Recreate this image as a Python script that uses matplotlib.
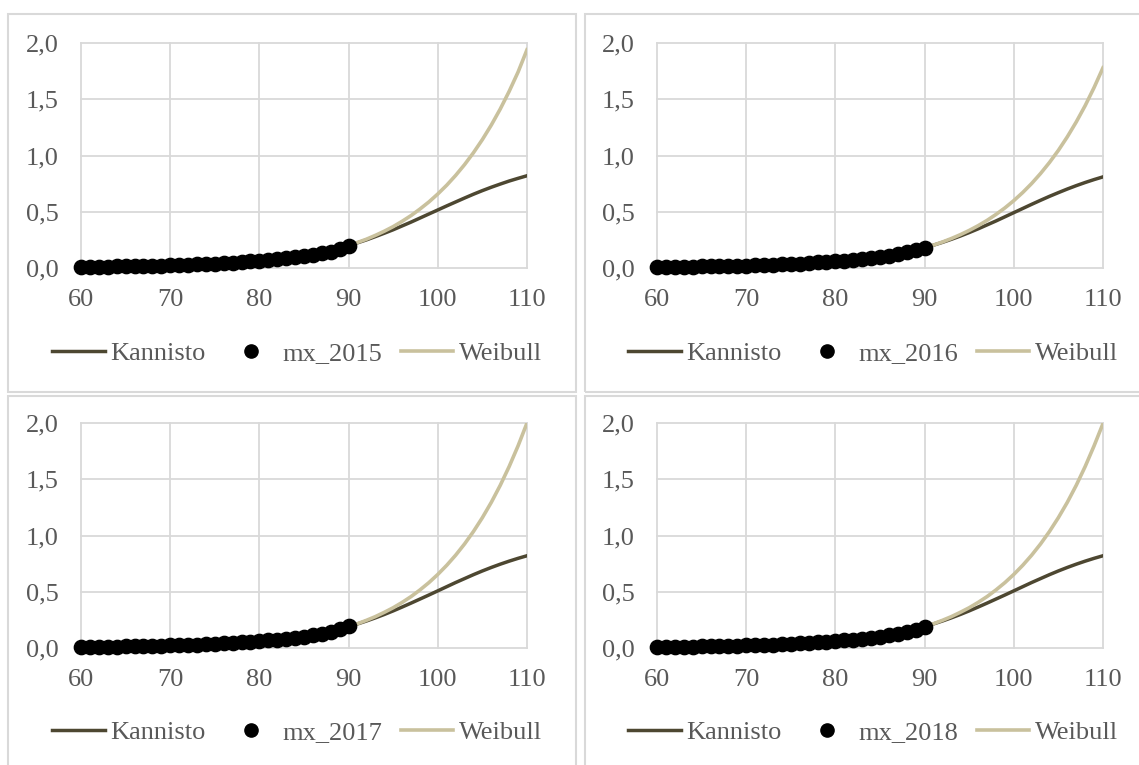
import matplotlib
matplotlib.use("Agg")
import matplotlib.pyplot as plt
from matplotlib.lines import Line2D
from matplotlib.patches import Rectangle
from matplotlib.ticker import FuncFormatter

# ages
ages_mx = list(range(60, 91))
ages_fit = list(range(90, 111))

# observed death rates, one list per year
mx_2015 = [0.010, 0.011, 0.012, 0.013, 0.014, 0.015, 0.017, 0.018, 0.020, 0.022,
           0.024, 0.026, 0.029, 0.032, 0.035, 0.039, 0.043, 0.048, 0.053, 0.058,
           0.064, 0.071, 0.078, 0.086, 0.095, 0.106, 0.118, 0.131, 0.146, 0.172, 0.200]
mx_2016 = [0.009, 0.010, 0.011, 0.012, 0.013, 0.014, 0.016, 0.017, 0.019, 0.020,
           0.022, 0.024, 0.027, 0.030, 0.033, 0.036, 0.040, 0.044, 0.049, 0.054,
           0.060, 0.066, 0.073, 0.080, 0.089, 0.099, 0.110, 0.122, 0.140, 0.160, 0.182]
mx_2017 = [0.010, 0.011, 0.011, 0.012, 0.013, 0.015, 0.016, 0.018, 0.019, 0.021,
           0.023, 0.025, 0.028, 0.031, 0.034, 0.037, 0.041, 0.046, 0.051, 0.056,
           0.062, 0.068, 0.075, 0.083, 0.092, 0.102, 0.114, 0.127, 0.143, 0.165, 0.192]
mx_2018 = [0.010, 0.010, 0.011, 0.012, 0.013, 0.014, 0.016, 0.017, 0.019, 0.021,
           0.023, 0.025, 0.027, 0.030, 0.033, 0.037, 0.041, 0.045, 0.050, 0.055,
           0.061, 0.067, 0.074, 0.082, 0.091, 0.101, 0.113, 0.126, 0.142, 0.164, 0.190]

# Kannisto fits, ages 90-110
kan_2015 = [0.200, 0.224, 0.250, 0.279, 0.309, 0.340, 0.374, 0.408, 0.444, 0.480, 0.516,
            0.552, 0.587, 0.622, 0.656, 0.688, 0.718, 0.746, 0.773, 0.797, 0.820]
kan_2016 = [0.180, 0.203, 0.228, 0.255, 0.284, 0.315, 0.348, 0.383, 0.418, 0.455, 0.492,
            0.529, 0.566, 0.602, 0.637, 0.670, 0.702, 0.732, 0.760, 0.786, 0.810]
kan_2017 = [0.190, 0.214, 0.240, 0.268, 0.298, 0.330, 0.364, 0.399, 0.435, 0.471, 0.508,
            0.545, 0.582, 0.617, 0.652, 0.685, 0.716, 0.745, 0.772, 0.797, 0.820]
kan_2018 = [0.190, 0.214, 0.240, 0.268, 0.298, 0.330, 0.364, 0.399, 0.435, 0.471, 0.508,
            0.545, 0.582, 0.617, 0.652, 0.685, 0.716, 0.745, 0.772, 0.797, 0.820]

# Weibull fits, ages 90-110
wei_2015 = [0.200, 0.227, 0.256, 0.290, 0.327, 0.368, 0.415, 0.466, 0.524, 0.587, 0.658,
            0.736, 0.823, 0.919, 1.025, 1.142, 1.271, 1.413, 1.570, 1.742, 1.940]
wei_2016 = [0.180, 0.204, 0.231, 0.262, 0.296, 0.334, 0.376, 0.423, 0.476, 0.534, 0.599,
            0.671, 0.751, 0.840, 0.938, 1.046, 1.166, 1.298, 1.443, 1.604, 1.780]
wei_2017 = [0.190, 0.216, 0.246, 0.279, 0.317, 0.358, 0.405, 0.457, 0.516, 0.581, 0.654,
            0.735, 0.825, 0.925, 1.036, 1.159, 1.295, 1.446, 1.613, 1.797, 2.000]
wei_2018 = [0.190, 0.216, 0.246, 0.279, 0.317, 0.358, 0.405, 0.457, 0.516, 0.581, 0.654,
            0.735, 0.825, 0.925, 1.036, 1.159, 1.295, 1.446, 1.613, 1.797, 1.995]

years = ["2015", "2016", "2017", "2018"]
mx_all = [mx_2015, mx_2016, mx_2017, mx_2018]
kan_all = [kan_2015, kan_2016, kan_2017, kan_2018]
wei_all = [wei_2015, wei_2016, wei_2017, wei_2018]

x_ticks = [60, 70, 80, 90, 100, 110]
y_ticks = [0.0, 0.5, 1.0, 1.5, 2.0]

KAN_COL = "#4d4731"
WEI_COL = "#c9c19d"
TXT_COL = "#595959"
GRID_COL = "#d9d9d9"

plt.rcParams['font.family'] = ['Liberation Serif', 'DejaVu Serif']

W, H = 1139, 765
fig = plt.figure(figsize=(W / 100, H / 100), dpi=100)

# panel frames in pixels: (left, top, right, bottom)
frames = [(8, 14, 576, 392), (585, 14, 1145, 392),
          (8, 396, 576, 770), (585, 396, 1145, 770)]
# plot areas in pixels: (left, top, right, bottom)
areas = [(81, 43, 527, 268), (657, 43, 1103, 268),
         (81, 423, 527, 648), (657, 423, 1103, 648)]
legend_y = [353, 353, 732, 732]

for fr in frames:
    l, t, r, b = fr
    fig.patches.append(Rectangle((l / W, 1 - b / H), (r - l) / W, (b - t) / H,
                                 transform=fig.transFigure, fill=False,
                                 edgecolor=GRID_COL, linewidth=1.5))

fmt = FuncFormatter(lambda v, p: f"{v:.1f}".replace(".", ","))

for i in range(4):
    l, t, r, b = areas[i]
    ax = fig.add_axes([l / W, 1 - b / H, (r - l) / W, (b - t) / H])
    ax.plot(ages_fit, kan_all[i], color=KAN_COL, lw=2.5, zorder=3)
    ax.plot(ages_fit, wei_all[i], color=WEI_COL, lw=2.6, zorder=3)
    ax.plot(ages_mx, mx_all[i], 'o', color='black', ms=10.3, zorder=4, clip_on=False)
    ax.set_xlim(60, 110)
    ax.set_ylim(0, 2.0)
    ax.set_xticks(x_ticks)
    ax.set_yticks(y_ticks)
    ax.yaxis.set_major_formatter(fmt)
    ax.grid(True, color=GRID_COL, lw=1.3, zorder=0)
    ax.set_axisbelow(True)
    for s in ax.spines.values():
        s.set_visible(False)
    ax.tick_params(length=0, labelsize=19, labelcolor=TXT_COL)
    ax.tick_params(axis='x', pad=15)
    ax.tick_params(axis='y', pad=16)
    for gl in ax.get_xgridlines() + ax.get_ygridlines():
        gl.set_clip_on(False)

    handles = [Line2D([], [], color=KAN_COL, lw=2.5),
               Line2D([], [], ls='none', marker='o', color='black', ms=9.5),
               Line2D([], [], color=WEI_COL, lw=2.6)]
    labels = ["Kannisto", "mx_" + years[i], "Weibull"]
    cx = (l + r) / 2 - 7
    fig.legend(handles, labels, loc='center', ncol=3, frameon=False,
               bbox_to_anchor=(cx / W, 1 - legend_y[i] / H),
               fontsize=19, labelcolor=TXT_COL, handlelength=2.0,
               handletextpad=0.2, columnspacing=0.7, borderaxespad=0)

fig.savefig("out.png", dpi=100)
